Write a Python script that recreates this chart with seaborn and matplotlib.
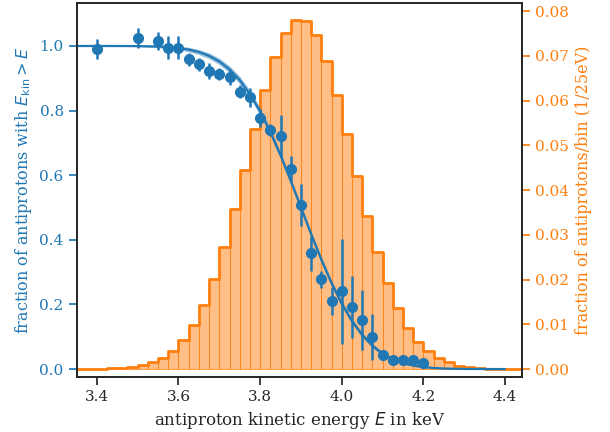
import numpy as np
import pandas as pd
import matplotlib
matplotlib.use("Agg")
import matplotlib.pyplot as plt
import seaborn as sns

# measured points: fraction of antiprotons above energy E
energy_points = [3.4, 3.5, 3.55, 3.575, 3.6, 3.625, 3.65, 3.675, 3.7, 3.725,
                 3.75, 3.775, 3.8, 3.825, 3.85, 3.875, 3.9, 3.925, 3.95, 3.975,
                 4.0, 4.025, 4.05, 4.075, 4.1, 4.125, 4.15, 4.175, 4.2]
fraction_points = [0.991, 1.026, 1.015, 0.995, 0.995, 0.959, 0.944, 0.923, 0.913, 0.903,
                   0.859, 0.841, 0.776, 0.740, 0.722, 0.619, 0.508, 0.358, 0.278, 0.211,
                   0.241, 0.192, 0.152, 0.098, 0.043, 0.027, 0.027, 0.027, 0.019]
fraction_err = [0.030, 0.031, 0.028, 0.035, 0.035, 0.020, 0.020, 0.025, 0.018, 0.025,
                0.020, 0.030, 0.028, 0.018, 0.065, 0.040, 0.066, 0.054, 0.027, 0.044,
                0.163, 0.096, 0.093, 0.071, 0.012, 0.008, 0.008, 0.008, 0.006]

# fit curve (3.35 .. 4.4 keV, 25 eV steps)
curve_energy = np.linspace(3.35, 4.4, 43)
curve_fraction = [1.0, 1.0, 1.0, 1.0, 0.9999, 0.9998, 0.9996, 0.9991, 0.9982, 0.9966,
                  0.9938, 0.989, 0.9814, 0.9696, 0.9522, 0.9276, 0.8944, 0.8512, 0.7977, 0.734,
                  0.6615, 0.5825, 0.5, 0.4175, 0.3385, 0.266, 0.2023, 0.1488, 0.1056, 0.0724,
                  0.0478, 0.0304, 0.0186, 0.011, 0.0062, 0.0034, 0.0018, 0.0009, 0.0004, 0.0002,
                  0.0001, 0.0, 0.0]
curve_band = [0, 0, 0, 0, 0.001, 0.001, 0.002, 0.003, 0.004, 0.005,
              0.006, 0.007, 0.008, 0.009, 0.010, 0.011, 0.012, 0.012, 0.012, 0.012,
              0.011, 0.010, 0.010, 0.010, 0.010, 0.010, 0.010, 0.009, 0.008, 0.007,
              0.006, 0.005, 0.004, 0.003, 0.002, 0.002, 0.001, 0.001, 0, 0,
              0, 0, 0]

# simulated energy distribution, 25 eV bins from 3.35 to 4.45 keV
bin_edges = np.linspace(3.35, 4.45, 45)
bin_fraction = [0.00005, 0.0001, 0.0001, 0.00015, 0.0003, 0.0005, 0.0009, 0.0016, 0.0025, 0.0041,
                0.0065, 0.0098, 0.0143, 0.0201, 0.0273, 0.0357, 0.0445, 0.0537, 0.0624, 0.0697,
                0.0752, 0.0779, 0.0777, 0.0746, 0.0688, 0.0612, 0.0525, 0.0432, 0.0343, 0.0261,
                0.0193, 0.0137, 0.0092, 0.0061, 0.0040, 0.0025, 0.0015, 0.0007, 0.0004, 0.0002,
                0.0001, 0.00005, 0.00003, 0.00002]

hist_df = pd.DataFrame({
    "energy": (bin_edges[:-1] + bin_edges[1:]) / 2,
    "fraction": bin_fraction,
})

BLUE = "#1f77b4"
ORANGE = "#ff7f0e"

sns.set_theme(style="ticks", context="notebook")
plt.rcParams["font.family"] = ["DejaVu Serif"]

fig, ax = plt.subplots(figsize=(6.1, 4.32), dpi=100)
fig.subplots_adjust(left=0.126, right=0.856, top=0.993, bottom=0.127)
ax2 = ax.twinx()

sns.histplot(data=hist_df, x="energy", weights="fraction", bins=list(bin_edges),
             element="bars", color=ORANGE, alpha=0.5, edgecolor=ORANGE, linewidth=0.5, ax=ax2)
sns.histplot(data=hist_df, x="energy", weights="fraction", bins=list(bin_edges),
             element="step", fill=False, color=ORANGE, linewidth=2, ax=ax2)

lower = np.array(curve_fraction) - np.array(curve_band)
upper = np.array(curve_fraction) + np.array(curve_band)
ax.fill_between(curve_energy, lower, upper, color=BLUE, alpha=0.45, lw=0)
sns.lineplot(x=curve_energy, y=curve_fraction, color=BLUE, linewidth=1.6, ax=ax)
ax.errorbar(energy_points, fraction_points, yerr=fraction_err, fmt="o", color=BLUE,
            markersize=7, elinewidth=1.8, capsize=0)

ax.set_zorder(ax2.get_zorder() + 1)
ax.patch.set_visible(False)

ax.set_xlim(3.351, 4.442)
ax.set_ylim(-0.025, 1.133)
ax2.set_ylim(-0.0018, 0.0818)
ax.set_yticks([0.0, 0.2, 0.4, 0.6, 0.8, 1.0])
ax2.set_yticks([0.0, 0.01, 0.02, 0.03, 0.04, 0.05, 0.06, 0.07, 0.08])
ax.set_xticks([3.4, 3.6, 3.8, 4.0, 4.2, 4.4])

ax.set_xlabel("antiproton kinetic energy $E$ in keV")
ax.set_ylabel(r"fraction of antiprotons with $E_\mathrm{kin} > E$", color=BLUE, fontsize=11.5)
ax2.set_ylabel("fraction of antiprotons/bin (1/25eV)", color=ORANGE, fontsize=11.5)
ax.tick_params(axis="y", colors=BLUE)
ax2.tick_params(axis="y", colors=ORANGE)

fig.savefig("out.png")
